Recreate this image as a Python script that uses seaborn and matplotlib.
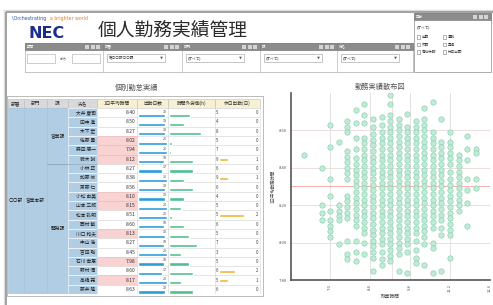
import numpy as np
import pandas as pd
import matplotlib
matplotlib.use("Agg")
import matplotlib.pyplot as plt
from matplotlib.patches import Rectangle
import seaborn as sns

# ---- 散布図データ（列ごとの x と y） ----
col_x = [6.1, 6.7, 7.0, 7.3, 7.6, 7.9, 8.2, 8.5, 8.8, 9.1, 9.4, 9.7, 10.0, 10.3, 10.6, 10.9, 11.2, 11.5, 11.8, 12.1]
col_y = [
    [8.47],
    [8.40, 8.20, 8.16, 8.12],
    [8.63, 8.51, 8.34, 8.25, 8.17, 8.12, 8.09, 8.06, 8.03],
    [8.54, 8.20, 8.17, 8.14, 8.12, 7.99],
    [8.65, 8.62, 8.59, 8.49, 8.46, 8.43, 8.40, 8.37, 8.34, 8.25, 8.22, 8.19, 8.16, 8.13, 8.01, 7.94, 7.91],
    [8.71, 8.64, 8.56, 8.50, 8.45, 8.42, 8.39, 8.36, 8.33, 8.30, 8.27, 8.24, 8.21, 8.18, 8.15, 8.12, 8.09, 8.01, 7.95, 7.90],
    [8.74, 8.68, 8.64, 8.56, 8.53, 8.50, 8.47, 8.44, 8.41, 8.38, 8.35, 8.32, 8.29, 8.26, 8.23, 8.20, 8.17, 8.14, 8.11, 8.08, 8.05, 8.00, 7.94],
    [8.66, 8.62, 8.58, 8.55, 8.52, 8.49, 8.46, 8.43, 8.40, 8.37, 8.34, 8.31, 8.28, 8.25, 8.22, 8.19, 8.16, 8.13, 8.10, 8.07, 8.04, 8.01, 7.98, 7.95, 7.92, 7.85],
    [8.67, 8.63, 8.59, 8.56, 8.53, 8.50, 8.47, 8.44, 8.41, 8.38, 8.35, 8.32, 8.29, 8.26, 8.23, 8.20, 8.17, 8.14, 8.11, 8.08, 8.05, 8.02, 7.99, 7.95, 7.91, 7.88],
    [8.79, 8.74, 8.68, 8.65, 8.62, 8.59, 8.56, 8.53, 8.50, 8.47, 8.44, 8.41, 8.38, 8.35, 8.32, 8.29, 8.26, 8.23, 8.20, 8.17, 8.14, 8.11, 8.08, 8.05, 8.02, 7.99, 7.96, 7.93, 7.90],
    [8.66, 8.63, 8.60, 8.57, 8.54, 8.51, 8.48, 8.45, 8.42, 8.39, 8.36, 8.33, 8.30, 8.27, 8.24, 8.21, 8.18, 8.15, 8.12, 8.09, 8.06, 8.03, 8.00, 7.97, 7.94, 7.85],
    [8.69, 8.62, 8.59, 8.56, 8.53, 8.50, 8.47, 8.44, 8.41, 8.38, 8.35, 8.32, 8.29, 8.26, 8.23, 8.20, 8.17, 8.14, 8.11, 8.08, 8.05, 8.02, 7.99, 7.95, 7.84],
    [8.65, 8.62, 8.59, 8.56, 8.53, 8.50, 8.47, 8.44, 8.41, 8.38, 8.35, 8.32, 8.29, 8.26, 8.23, 8.20, 8.17, 8.14, 8.11, 8.08, 8.05, 8.01, 7.96, 7.92, 7.89],
    [8.72, 8.66, 8.63, 8.60, 8.57, 8.54, 8.51, 8.48, 8.45, 8.42, 8.39, 8.36, 8.33, 8.30, 8.27, 8.24, 8.21, 8.18, 8.15, 8.12, 8.09, 8.06, 8.03, 7.99, 7.88],
    [8.75, 8.59, 8.56, 8.53, 8.50, 8.47, 8.44, 8.41, 8.38, 8.35, 8.32, 8.29, 8.26, 8.23, 8.20, 8.17, 8.14, 8.11, 8.08, 8.00, 7.97, 7.84],
    [8.66, 8.54, 8.51, 8.48, 8.45, 8.42, 8.39, 8.36, 8.33, 8.30, 8.27, 8.24, 8.21, 8.18, 8.15, 8.12, 8.08, 8.04, 7.85],
    [8.59, 8.54, 8.51, 8.48, 8.45, 8.42, 8.38, 8.34, 8.31, 8.28, 8.25, 8.22, 8.19, 8.16, 8.13, 8.10, 8.07, 8.04, 7.92],
    [8.47, 8.44, 8.41, 8.38, 8.35, 8.32, 8.29, 8.26, 8.23, 8.20, 8.17],
    [8.57, 8.50, 8.44, 8.34, 8.28, 8.21, 8.09],
    [8.50, 8.48, 8.34, 8.29],
]
target_hours = 8.30
mean_overtime = 9.16
x_ticks = [7.0, 8.4, 9.8, 11.2, 12.6]
y_ticks = [7.8, 8.0, 8.2, 8.4, 8.6]

# ---- 表データ ----
headers = ["部署", "部門", "課", "氏名", "1日平均時間", "出勤日数", "時間外労働(h)", "休日出勤(日)"]
dept = "〇〇部"
division = "営業本部"
group_names = ["営業課", "開発課"]
group_sizes = [6, 14]
names = ["大井 慶司", "田中 進", "木下 宏", "佐藤 勇", "森田 康一", "鈴木 誠", "小林 正", "加藤 修",
         "斎藤 仁", "小松 由美", "山本 三郎", "松本 弘明", "西村 敏", "川口 和夫", "中山 浩", "吉田 聡",
         "石川 幸恵", "野村 清", "高橋 亮", "藤井 隆"]
avg_hours = [8.40, 8.50, 8.27, 8.02, 7.94, 8.12, 8.27, 8.38, 8.56, 8.10,
             8.15, 8.51, 8.60, 8.13, 8.27, 8.45, 7.98, 8.60, 8.17, 8.63]
work_days = [19, 19, 19, 20, 20, 18, 17, 20, 19, 19, 20, 20, 18, 19, 18, 20, 18, 17, 20, 19]
overtime = [13.5, 10.0, 21.0, 2.0, 1.5, 15.5, 15.5, 10.0, 15.5, 10.0,
            8.0, 2.0, 10.0, 13.0, 18.5, 7.5, 13.0, 15.5, 8.0, 15.5]
paid_leave = [5, 4, 8, 5, 7, 9, 6, 9, 6, 4, 5, 5, 6, 5, 7, 3, 5, 6, 5, 6]
holiday_hours = [0, 0, 0, 0, 0, 3, 0, 3, 0, 0, 0, 8, 0, 0, 0, 0, 0, 5, 3, 0]
holiday_days = [0, 0, 0, 0, 0, 1, 0, 1, 0, 0, 0, 2, 0, 0, 0, 0, 0, 2, 1, 0]
low_limit = 8.20

panel_titles = ["期間", "部署", "部門", "課", "氏名"]
panel_values = ["", "第〇〇部〇〇課", "(すべて)", "(すべて)", "(すべて)"]
check_labels = ["出勤", "遅刻", "欠勤", "早退", "有給休暇", "休日出勤"]

sns.set_style("white")
plt.rcParams['font.family'] = ['Noto Sans CJK JP', 'DejaVu Sans']

W, H = 493, 305
fig = plt.figure(figsize=(W / 100, H / 100), dpi=100)


def px_axes(x0, y0, x1, y1):
    ax = fig.add_axes([x0 / W, 1 - y1 / H, (x1 - x0) / W, (y1 - y0) / H])
    ax.patch.set_alpha(0)
    return ax


# 背景（画面の枠・ヘッダー）
bg = fig.add_axes([0, 0, 1, 1])
bg.set_xlim(0, W)
bg.set_ylim(H, 0)
bg.axis("off")

bg.plot([4, W], [10, 10], color="#dcdcdc", lw=1.0)
bg.plot([4, 4], [10, H], color="#dcdcdc", lw=1.0)
bg.plot([5.5, W], [11.5, 11.5], color="#8a8a8a", lw=1.1, solid_capstyle="butt")
bg.plot([5.5, 5.5], [11.5, H], color="#8a8a8a", lw=1.1, solid_capstyle="butt")

bg.text(12, 18.5, "\\Orchestrating", color="#2b55a8", fontsize=3.4, va="center", family="DejaVu Sans")
bg.text(50, 18.5, "a brighter world", color="#e97b26", fontsize=3.4, va="center", family="DejaVu Sans")
bg.text(29, 33.5, "NEC", color="#1c2f8f", fontsize=11.5, fontweight="heavy", va="center", family="DejaVu Sans")
bg.text(173, 31, "個人勤務実績管理", fontsize=13.5, ha="center", va="center", color="#2a2a2a")

# フィルターパネル
panel_edges = [25, 103, 182, 260, 337, 413]
bg.add_patch(Rectangle((25, 43), 388, 29, fc="white", ec="#a0a0a0", lw=0.6))
for k in range(5):
    x0, x1 = panel_edges[k], panel_edges[k + 1]
    bg.add_patch(Rectangle((x0, 50), x1 - x0, 22, fc="white", ec="#b8b8b8", lw=0.4))
    bg.add_patch(Rectangle((x0, 43), x1 - x0, 7, fc="#8c8c8c", ec="#777777", lw=0.4))
    bg.text(x0 + 2, 46.5, panel_titles[k], color="white", fontsize=2.5, va="center")
    for m in range(3):
        bg.add_patch(Rectangle((x1 - 18 + m * 5.5, 44.5), 4.3, 4, fc="#d4d4d4", ec="none"))
    if k == 0:
        bg.add_patch(Rectangle((27, 54), 28, 9, fc="white", ec="#a8a8a8", lw=0.4))
        bg.add_patch(Rectangle((72, 54), 28, 9, fc="white", ec="#a8a8a8", lw=0.4))
        bg.text(60, 58.5, "から", fontsize=2.6, va="center", color="#555555")
    else:
        bg.add_patch(Rectangle((x0 + 4, 54), 58, 8, fc="white", ec="#9a9a9a", lw=0.4))
        bg.text(x0 + 6, 58, panel_values[k], fontsize=2.6, va="center", color="#333333")
        bg.text(x0 + 57, 58, "▼", fontsize=2.2, va="center", color="#555555")

# チェックボックスパネル
bg.add_patch(Rectangle((414, 13), 77, 59, fc="white", ec="#a0a0a0", lw=0.6))
bg.add_patch(Rectangle((414, 13), 77, 7, fc="#8c8c8c", ec="#777777", lw=0.4))
bg.text(416, 16.5, "区分", color="white", fontsize=2.5, va="center")
for m in range(3):
    bg.add_patch(Rectangle((473 + m * 5.5, 14.5), 4.3, 4, fc="#d4d4d4", ec="none"))
bg.text(417, 27, "(すべて)", fontsize=2.6, va="center", color="#333333")
for idx, lab in enumerate(check_labels):
    cx = 417 + (idx % 2) * 26
    cy = 37 + (idx // 2) * 7.5
    bg.add_patch(Rectangle((cx, cy - 1.6), 3.2, 3.2, fc="white", ec="#777777", lw=0.4))
    bg.text(cx + 4.5, cy, lab, fontsize=2.6, va="center", color="#333333")

# 表
bg.add_patch(Rectangle((7, 96), 256, 200, fc="none", ec="#b0b0b0", lw=0.6))
bg.text(137, 88, "個別勤怠実績", fontsize=5.2, ha="center", va="center", color="#555555")
bg.text(380, 87, "勤務実績散布図", fontsize=5.2, ha="center", va="center", color="#555555")

n = len(names)
rows = np.arange(n)
col_edges = [8, 24, 47, 68, 97, 137, 168, 215, 260]
tab = px_axes(8, 98.7, 262, 294)
tab.set_xlim(8, 262)
tab.set_ylim(n - 0.5, -1.5)
tab.axis("off")

blue = "#b0cde3"
for j, lab in enumerate(headers):
    x0, x1 = col_edges[j], col_edges[j + 1]
    fc = "#d9d9d9" if j < 4 else "#f5f1d2"
    tab.add_patch(Rectangle((x0, -1.5), x1 - x0, 1, fc=fc, ec="#bdbdbd", lw=0.4))
    tab.text((x0 + x1) / 2, -1.0, lab, ha="center", va="center", fontsize=3.4, color="#333333")

for j in range(3):
    x0, x1 = col_edges[j], col_edges[j + 1]
    tab.add_patch(Rectangle((x0, -0.5), x1 - x0, n, fc=blue, ec="#a3c0d6", lw=0.4))
tab.text(16, 9.4, dept, ha="center", va="center", fontsize=3.4, color="#222222")
tab.text(35.5, 9.4, division, ha="center", va="center", fontsize=3.4, color="#222222")
start = 0
for g, size in zip(group_names, group_sizes):
    tab.text(57.5, start + (size - 1) / 2, g, ha="center", va="center", fontsize=3.4, color="#222222")
    start += size
    if start < n:
        tab.plot([47, 97], [start - 0.5, start - 0.5], color="#7f9bb0", lw=0.5)

for i in rows:
    tab.add_patch(Rectangle((68, i - 0.5), 29, 1, fc=blue, ec="white", lw=0.4))
    tab.text(95.5, i, names[i], ha="right", va="center", fontsize=3.4, color="#222222")
    low = avg_hours[i] < low_limit
    tab.add_patch(Rectangle((97, i - 0.5), 40, 1, fc="#f9d2d2" if low else "white",
                            ec="#eeb4b4" if low else "#d8d8d8", lw=0.4))
    tab.text(135.5, i, f"{avg_hours[i]:.2f}", ha="right", va="center", fontsize=3.6, color="#333333")
    for j in (5, 6, 7):
        x0, x1 = col_edges[j], col_edges[j + 1]
        tab.add_patch(Rectangle((x0, i - 0.5), x1 - x0, 1, fc="white", ec="#d8d8d8", lw=0.4))
    tab.text(167, i - 0.12, str(work_days[i]), ha="right", va="center", fontsize=2.6, color="#444444")
    tab.text(216, i, str(paid_leave[i]), ha="left", va="center", fontsize=3.2, color="#444444")
    tab.text(258.5, i, str(holiday_days[i]), ha="right", va="center", fontsize=3.2, color="#444444")


def bar_axes(x0, x1, xmax):
    ax = px_axes(x0, 98.7, x1, 294)
    ax.set_xlim(0, xmax)
    ax.set_ylim(n - 0.5, -1.5)
    ax.axis("off")
    return ax


bx = bar_axes(138, 168, 21)
bx.barh(rows + 0.28, work_days, height=0.34, color="#2a9cd8")
gx = bar_axes(169, 215, 30)
gx.barh(rows + 0.28, overtime, height=0.34, color="#4fbf92")
ox = bar_axes(219, 260, 13)
ox.barh(rows + 0.05, holiday_hours, height=0.34, color="#f4b531")

# 散布図
df = pd.DataFrame({
    "x": [x for x, ys in zip(col_x, col_y) for _ in ys],
    "y": [y for ys in col_y for y in ys],
})
sc = px_axes(291, 93, 490, 280)
sns.scatterplot(data=df, x="x", y="y", ax=sc, s=15, color="#c2ead7",
                edgecolor="#85d2ae", linewidth=0.45, zorder=3)
sc.set_xlim(5.63, 12.6)
sc.set_ylim(7.8, 8.8)
sc.set_xticks(x_ticks)
sc.set_xticklabels([f"{v:.1f}" for v in x_ticks], rotation=90)
sc.set_yticks(y_ticks)
sc.set_yticklabels([f"{v:.2f}" for v in y_ticks])
sc.yaxis.grid(True, color="#ead9d9", lw=0.6)
sc.xaxis.grid(True, color="#dedede", lw=0.6)
sc.set_axisbelow(True)
sc.axhline(target_hours, color="#f2a0a0", lw=0.6, zorder=2)
sc.axvline(mean_overtime, color="#f6d6d6", lw=0.6, zorder=2)
for side in ("top", "right"):
    sc.spines[side].set_visible(False)
for side in ("left", "bottom"):
    sc.spines[side].set_color("#555555")
    sc.spines[side].set_linewidth(1.2)
sc.tick_params(axis="both", labelsize=3.0, colors="#555555", length=2, width=0.5, pad=1)
sc.set_xlabel("残業時間", fontsize=3.4, labelpad=1.5, color="#444444")
sc.set_ylabel("1日平均勤務時間", fontsize=3.2, labelpad=2, color="#444444")

fig.savefig("out.png", dpi=100)
